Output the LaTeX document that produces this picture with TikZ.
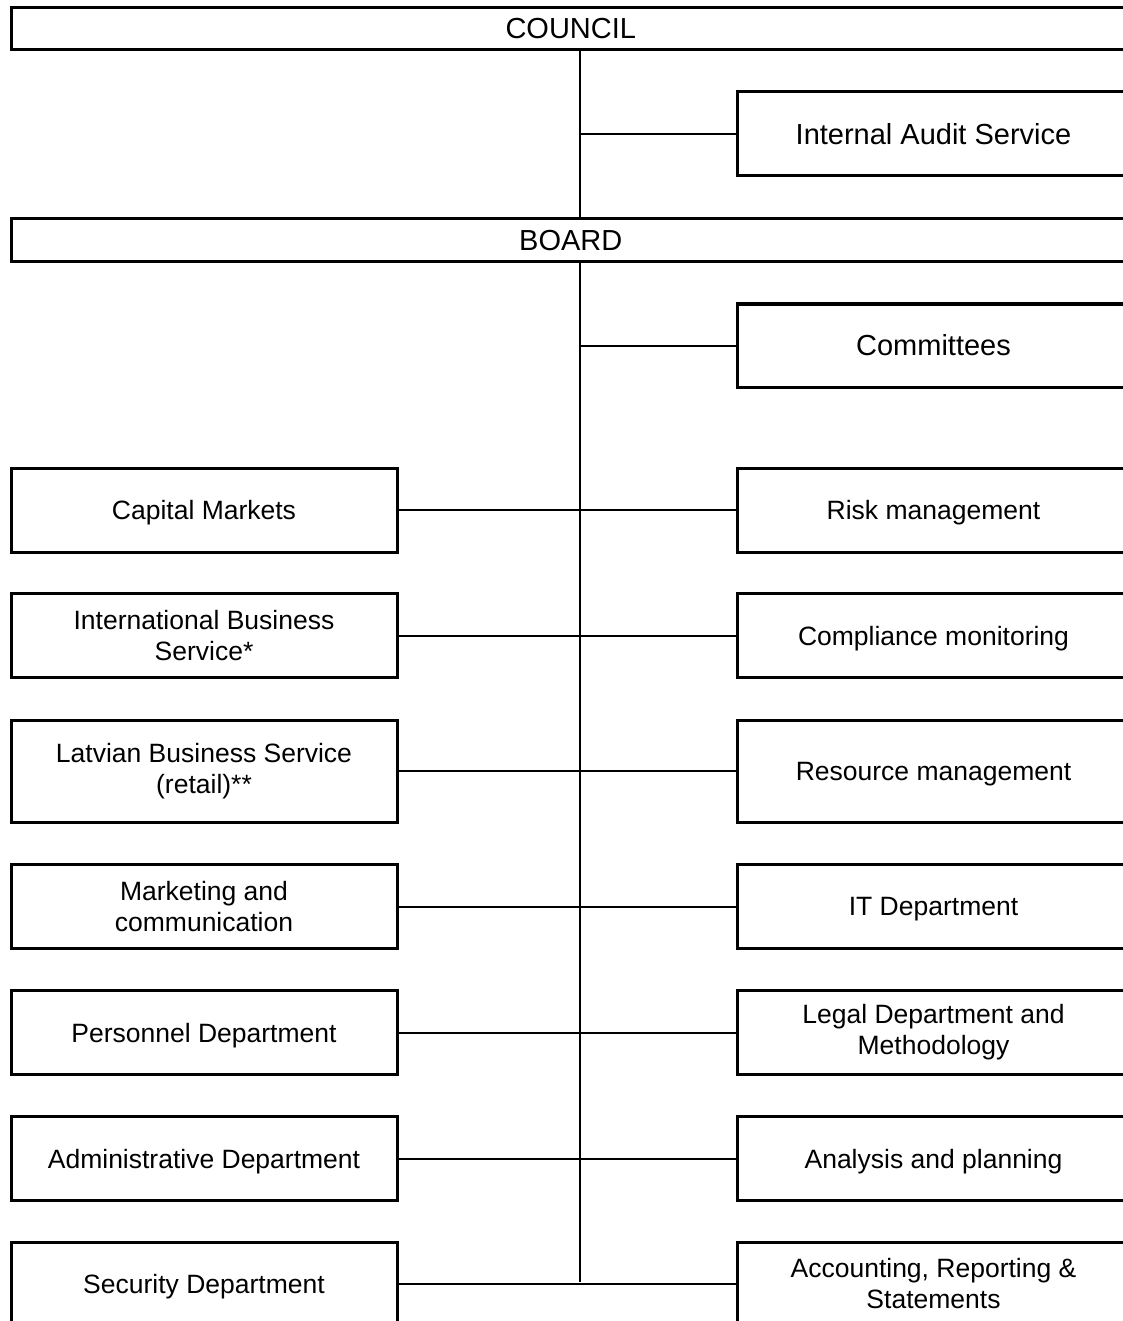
\documentclass[tikz,border=0pt]{standalone}
\usepackage{fontspec}
\setmainfont{Liberation Sans}
\begin{document}
\begin{tikzpicture}[x=1pt,y=-1pt,
  box/.style={draw=black,line width=3pt,rectangle,inner sep=0pt,align=center,font=\fontsize{26.5}{31}\selectfont},
  bigbox/.style={box,font=\fontsize{29}{34}\selectfont},
  lbox/.style={box,minimum width=386pt,minimum height=84pt},
  rbox/.style={box,minimum width=393pt,minimum height=84pt},
  one/.style={text depth=0pt},
  conn/.style={draw=black,line width=2pt}]
\clip (0,0) rectangle (1123,1321);
\fill[white] (0,0) rectangle (1123,1321);
% top bars
\node[bigbox,minimum width=1118.5pt,minimum height=42pt,text depth=-2pt] (council) at (570.75,28.5) {COUNCIL};
\node[bigbox,minimum width=1118.5pt,minimum height=43pt,text depth=-2pt] (board) at (570.75,240) {BOARD};
\node[bigbox,minimum width=393pt,minimum height=84pt] (audit) at (933.5,134) {Internal Audit Service};
\node[bigbox,minimum width=393pt,minimum height=83pt] (committees) at (933.5,345.5) {Committees};
% left column
\node[lbox,one] (cap) at (204,510) {Capital Markets};
\node[lbox] (intl) at (204,635.5) {International Business\\Service*};
\node[lbox,minimum height=102pt] (latv) at (204,771) {Latvian Business Service\\(retail)**};
\node[lbox] (mkt) at (204,906.5) {Marketing and\\communication};
\node[lbox,one] (pers) at (204,1032.5) {Personnel Department};
\node[lbox,one] (admin) at (204,1158.5) {Administrative Department};
\node[lbox,one] (sec) at (204,1284) {Security Department};
% right column
\node[rbox,one] (risk) at (933.5,510) {Risk management};
\node[rbox,one] (comp) at (933.5,635.5) {Compliance monitoring};
\node[rbox,one,minimum height=102pt] (res) at (933.5,771) {Resource management};
\node[rbox,one] (it) at (933.5,906.5) {IT Department};
\node[rbox] (legal) at (933.5,1032.5) {Legal Department and\\Methodology};
\node[rbox,one] (anal) at (933.5,1158.5) {Analysis and planning};
\node[rbox] (acct) at (933.5,1284) {Accounting, Reporting \&\\Statements};
% spine
\coordinate (spineEnd) at (580,1282);
\draw[conn] (council.south -| spineEnd) -- (board.north -| spineEnd);
\draw[conn] (board.south -| spineEnd) -- (spineEnd);
\draw[conn] (audit.west -| spineEnd) -- (audit.west);
\draw[conn] (committees.west -| spineEnd) -- (committees.west);
\draw[conn] (cap.east) -- (risk.west);
\draw[conn] (intl.east) -- (comp.west);
\draw[conn] (latv.east) -- (res.west);
\draw[conn] (mkt.east) -- (it.west);
\draw[conn] (pers.east) -- (legal.west);
\draw[conn] (admin.east) -- (anal.west);
\draw[conn] (sec.east) -- (acct.west);
\end{tikzpicture}
\end{document}
